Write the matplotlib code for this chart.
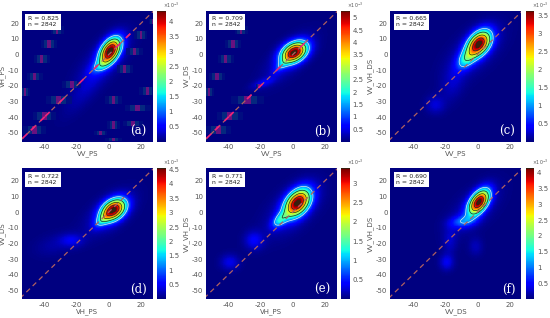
import numpy as np
import matplotlib
matplotlib.use("Agg")
import matplotlib.pyplot as plt
from matplotlib.colors import LinearSegmentedColormap
from matplotlib.patches import Rectangle

W, H = 550, 318

letters = ["(a)", "(b)", "(c)", "(d)", "(e)", "(f)"]
x_names = ["VV_PS", "VV_PS", "VV_PS", "VH_PS", "VH_PS", "VV_DS"]
y_names = ["VH_PS", "VV_DS", "VV_VH_DS", "VV_DS", "VV_VH_DS", "VV_VH_DS"]
r_values = ["0.825", "0.709", "0.665", "0.722", "0.771", "0.690"]
n_value = 2842
vmaxes = [4.35, 5.3, 3.65, 4.55, 3.4, 4.15]
cbar_ticks = [
    [0.5, 1, 1.5, 2, 2.5, 3, 3.5, 4],
    [0.5, 1, 1.5, 2, 2.5, 3, 3.5, 4, 4.5, 5],
    [0.5, 1, 1.5, 2, 2.5, 3, 3.5],
    [0.5, 1, 1.5, 2, 2.5, 3, 3.5, 4, 4.5],
    [0.5, 1, 1.5, 2, 2.5, 3],
    [0.5, 1, 1.5, 2, 2.5, 3, 3.5, 4],
]

# density blobs: x, y, peak, sx, sy, rho
blobs_a = [(1, 2.5, 4.3, 4.4, 5.6, 0.45), (-5, -7, 0.7, 4.5, 3.5, 0.6), (-14, -22, 0.2, 9, 11, 0.8), (-3, -3, 0.4, 10, 11, 0.7)]
blobs_b = [(1, 1.5, 5.2, 5.4, 4.6, 0.35), (-7, -7, 0.7, 3.5, 3.5, 0.7), (-18, -18, 0.5, 5, 2.5, 0.6), (-3, -3, 0.4, 10, 10, 0.7)]
blobs_c = [(1, 7, 3.55, 5.0, 5.6, 0.4), (-7, -3, 1.0, 4, 4.5, 0.4), (-26, -32, 0.28, 4, 4, 0), (-15, -18, 0.2, 5, 8, 0.3), (-2, 2, 0.3, 11, 11, 0.6)]
blobs_d = [(3, 1.5, 4.4, 5.2, 4.8, 0.35), (-4, -5, 0.9, 3.5, 3.5, 0.6), (-23, -18, 0.42, 5, 3, 0), (-34, -21, 0.16, 8, 5, 0.3), (0, -1, 0.35, 10, 9, 0.6)]
blobs_e = [(3, 6, 3.3, 5.4, 6.0, 0.4), (-8, -5, 0.95, 3.5, 3.5, 0.5), (-24, -18, 0.38, 4, 4, 0), (-39, -32, 0.32, 4, 3.5, 0), (0, 2, 0.3, 11, 11, 0.6)]
blobs_f = [(1, 6.5, 4.05, 4.4, 5.4, 0.5), (-9, -6, 0.8, 5.5, 2.8, 0.2), (-19, -32, 0.42, 3, 3.5, 0), (-1, -22, 0.22, 3, 4, 0), (-17, -18, 0.25, 3, 6, 0), (-2, 2, 0.3, 10, 10, 0.6)]
all_blobs = [blobs_a, blobs_b, blobs_c, blobs_d, blobs_e, blobs_f]

# striped artefact patches: x, y, half width, half height
patches_a = [(-32, 16, 4, 2.5), (-37, 7, 5, 2.5), (-41.5, -3, 5, 2.5), (-46, -14, 5, 2.5), (-52, -24, 3, 2.5),
             (-31, -29, 8, 2.5), (-40, -39, 7, 2.5), (-46, -48, 7, 2.5), (-23, -19, 6, 2),
             (16, 2, 5, 2.5), (10, -9, 5, 2.5), (24, -23, 5, 2.5), (3, -29, 5, 2.5), (18, -34, 8, 2),
             (3, -45, 4, 2.5), (15, -44, 6, 1.5), (-5, -50, 4, 1.5), (3, -54, 5, 1), (20, 12.5, 4, 2.5), (27, 21, 2, 1.5)]
patches_b = [(-32, 16, 4, 2.5), (-37, 7, 5, 2.5), (-41.5, -3, 5, 2.5), (-47, -14, 5, 2.5), (-52, -24, 3, 2.5),
             (-28, -29, 10, 2.5), (-39, -39, 8, 2.5), (-46, -48, 8, 2.5), (-21, -20, 2, 1)]
patches_list = [patches_a, patches_b, [], [], [], []]

# pink dashes on the diagonal of the first two panels
pink_a = [-52, -47, -38, -29, -17, -8, 6, 12, -41]
pink_b = [-52, -47, -38, -27, -20, -9, 6, -41]
pink_list = [pink_a, pink_b, [], [], [], []]

contour_fracs = [0.25, 0.45, 0.65, 0.85]

jet = plt.get_cmap("jet")
cols = [jet(v) for v in np.linspace(0, 1, 240)] + [(0.30, 0.08, 0.03, 1), (0.22, 0.12, 0.06, 1)]
cmap = LinearSegmentedColormap.from_list("jetdark", cols, N=256)

plt.rcParams["font.family"] = "DejaVu Sans"
plt.rcParams["axes.unicode_minus"] = False
fig = plt.figure(figsize=(W / 100, H / 100), dpi=100)

ax_lefts = [21.7, 205.7, 390.3]
ax_tops = [10.5, 168]
ax_w, ax_h = 131, 131
cb_off, cb_w = 4.5, 8.6
XL, YL = (-54, 27.3), (-55.5, 28.2)
TC = "#555555"

gx = np.linspace(XL[0], XL[1], 300)
gy = np.linspace(YL[0], YL[1], 300)
X, Y = np.meshgrid(gx, gy)


def field(blobs):
    Z = np.zeros_like(X)
    for (cx, cy, p, sx, sy, rho) in blobs:
        dx, dy = (X - cx) / sx, (Y - cy) / sy
        Z += p * np.exp(-(dx**2 - 2 * rho * dx * dy + dy**2) / (2 * (1 - rho**2)))
    return Z


for i in range(6):
    left, top = ax_lefts[i % 3], ax_tops[i // 3]
    ax = fig.add_axes([left / W, 1 - (top + ax_h) / H, ax_w / W, ax_h / H])
    Z = field(all_blobs[i])
    im = ax.pcolormesh(X, Y, Z, cmap=cmap, vmin=0, vmax=vmaxes[i], shading="auto", rasterized=True)
    ax.contour(X, Y, Z, levels=[vmaxes[i] * contour_fracs[0]], colors="#dfeee8", linewidths=0.5)
    ax.contour(X, Y, Z, levels=[vmaxes[i] * f for f in contour_fracs[1:]], colors="#103020", linewidths=0.5)
    for (cx, cy, hw, hh) in patches_list[i]:
        w = 2 * hw / 5
        for k, c in enumerate(["#000f80", "#06307f", "#7a1580", "#06307f", "#000f80"]):
            ax.add_patch(Rectangle((cx - hw + k * w, cy - hh), w, 2 * hh, fc=c, ec="none", alpha=0.85, zorder=2))
    ax.plot([-55, 28], [-55, 28], color="#b06060", lw=0.9, ls=(0, (4, 3)), zorder=3)
    for p in pink_list[i]:
        ax.plot([p - 1, p + 1], [p - 1, p + 1], color="#f0207a", lw=1.2, zorder=4)
    ax.set_xlim(XL)
    ax.set_ylim(YL)
    ax.set_xticks([-40, -20, 0, 20])
    ax.set_yticks([-50, -40, -30, -20, -10, 0, 10, 20])
    ax.tick_params(labelsize=5, length=0, pad=2, colors=TC)
    ax.set_xlabel(x_names[i], fontsize=5, color=TC)
    ax.set_ylabel(y_names[i], fontsize=5, color=TC)
    ax.xaxis.set_label_coords(0.5, -0.07)
    ax.yaxis.set_label_coords(-0.122, 0.5)
    for s in ax.spines.values():
        s.set_visible(False)
    ax.text(0.045, 0.955, f"R = {r_values[i]}\nn = {n_value}", transform=ax.transAxes, fontsize=4.4,
            va="top", ha="left", color="#222222", linespacing=1.25, zorder=6,
            bbox=dict(fc="white", ec="none", pad=1.6))
    ax.text(0.955, 0.025, letters[i], transform=ax.transAxes, fontsize=8.5, family="DejaVu Serif",
            va="bottom", ha="right", color="white", zorder=6)

    cax = fig.add_axes([(left + ax_w + cb_off) / W, 1 - (top + ax_h) / H, cb_w / W, ax_h / H])
    cb = fig.colorbar(im, cax=cax)
    cb.set_ticks(cbar_ticks[i])
    cb.set_ticklabels([f"{t:g}" for t in cbar_ticks[i]])
    cb.ax.tick_params(labelsize=5, length=0, pad=2, colors=TC)
    cb.outline.set_visible(False)
    cax.text(0.7, 1.005, r"$\times10^{-3}$", transform=cax.transAxes, fontsize=3.4, color=TC, va="bottom", ha="left")

fig.savefig("out.png", dpi=100)
